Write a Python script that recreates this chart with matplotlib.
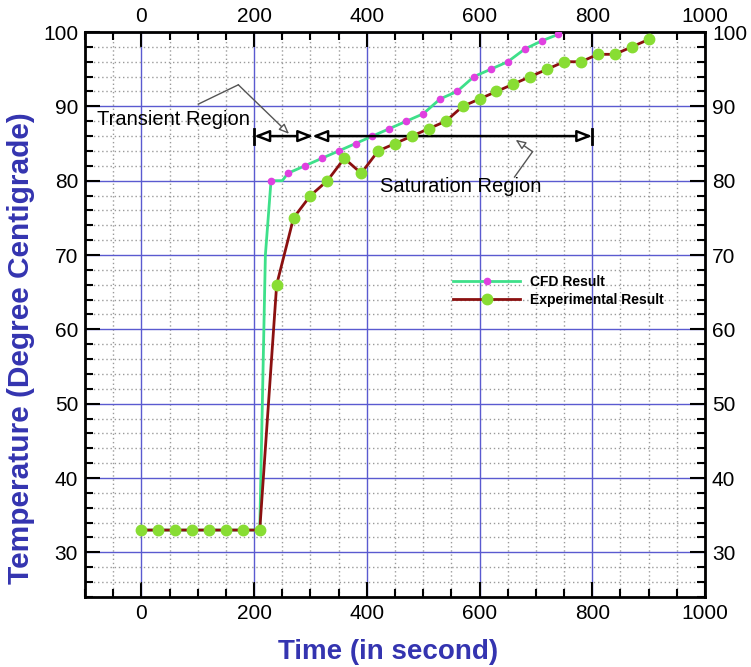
import matplotlib.pyplot as plt
from matplotlib.ticker import MultipleLocator

plt.rcParams['font.family'] = ['Liberation Sans', 'DejaVu Sans']

# Datos
tiempo_exp = [0, 30, 60, 90, 120, 150, 180, 210, 240, 270, 300, 330, 360, 390, 420, 450,
              480, 510, 540, 570, 600, 630, 660, 690, 720, 750, 780, 810, 840, 870, 900]
temp_exp = [33, 33, 33, 33, 33, 33, 33, 33, 66, 75, 78, 80, 83, 81, 84, 85,
            86, 87, 88, 90, 91, 92, 93, 94, 95, 96, 96, 97, 97, 98, 99]

tiempo_cfd = [0, 30, 60, 90, 120, 150, 180, 210, 220, 230, 250, 260, 290, 320, 350, 380,
              410, 440, 470, 500, 530, 560, 590, 620, 650, 680, 710, 740, 750]
temp_cfd = [33, 33, 33, 33, 33, 33, 33, 33, 70, 80, 80, 81, 82, 83, 84, 85,
            86, 87, 88, 89, 91, 92, 94, 95, 96, 97.7, 98.8, 99.7, 100.5]
marcas_cfd = [0, 1, 2, 3, 4, 5, 6, 7, 9] + list(range(11, 28))

ticks_x = [0, 200, 400, 600, 800, 1000]
ticks_y = [30, 40, 50, 60, 70, 80, 90, 100]

azul = '#3434b0'

fig = plt.figure(figsize=(7.51, 6.67), dpi=100)
ax = fig.add_axes([0.1132, 0.105, 0.8256, 0.847])

ax.plot(tiempo_cfd, temp_cfd, color='#3ee08a', linewidth=2, marker='o', markersize=4.5,
        markerfacecolor='#e040e0', markeredgecolor='#e040e0', markevery=marcas_cfd,
        label='CFD Result', zorder=3)
ax.plot(tiempo_exp, temp_exp, color='#8b1010', linewidth=2, marker='o', markersize=7.5,
        markerfacecolor='#88dd33', markeredgecolor='#88dd33', label='Experimental Result',
        zorder=4)

ax.set_xlim(-100, 1000)
ax.set_ylim(24, 100)
ax.set_xticks(ticks_x)
ax.set_yticks(ticks_y)
ax.xaxis.set_minor_locator(MultipleLocator(50))
ax.yaxis.set_minor_locator(MultipleLocator(2))

ax.grid(True, which='major', color='#5a5ad0', linewidth=1)
ax.grid(True, which='minor', color='#9a9a9a', linewidth=1, linestyle=(0, (1, 2)))
ax.set_axisbelow(True)

ax.tick_params(which='both', direction='in', top=True, right=True,
               labeltop=False, labelright=True, width=1.5, labelsize=15, pad=5)
ax.tick_params(which='major', length=11)
ax.tick_params(which='minor', length=6)
for s in ax.spines.values():
    s.set_linewidth(2)

# etiquetas de arriba
arriba = ax.secondary_xaxis('top')
arriba.set_xticks(ticks_x)
arriba.tick_params(length=0, labelsize=15, pad=4.5)
arriba.spines['top'].set_visible(False)

ax.set_xlabel('Time (in second)', fontsize=20, fontweight='bold', color=azul)
ax.set_ylabel('Temperature (Degree Centigrade)', fontsize=21.5, fontweight='bold', color=azul)
ax.xaxis.set_label_coords(0.489, -0.075)
ax.yaxis.set_label_coords(-0.081, 0.44)

# Flechas de las regiones
y_flecha = 86
ax.annotate('', xy=(200, y_flecha), xytext=(305, y_flecha),
            arrowprops=dict(arrowstyle='<|-|>,head_length=0.9,head_width=0.35',
                            fc='white', ec='black', lw=1.8, shrinkA=0, shrinkB=0))
ax.annotate('', xy=(800, y_flecha), xytext=(303, y_flecha),
            arrowprops=dict(arrowstyle='<|-|>,head_length=0.9,head_width=0.35',
                            fc='white', ec='black', lw=1.8, shrinkA=0, shrinkB=0))
ax.plot([200, 200], [85, 87], color='black', linewidth=2)
ax.plot([800, 800], [85, 87], color='black', linewidth=2)

ax.text(-78, 88.2, 'Transient Region', fontsize=14.5, va='center', ha='left')
ax.plot([101, 172], [90.3, 92.9], color='#555555', linewidth=1)
ax.annotate('', xy=(262, 86.3), xytext=(172, 92.9),
            arrowprops=dict(arrowstyle='-|>,head_length=0.6,head_width=0.25',
                            fc='white', ec='#555555', lw=1, shrinkA=0, shrinkB=0))

ax.text(423, 79.2, 'Saturation Region', fontsize=14.5, va='center', ha='left')
ax.plot([662, 694], [80.5, 83.9], color='#555555', linewidth=1)
ax.annotate('', xy=(664, 85.5), xytext=(694, 83.9),
            arrowprops=dict(arrowstyle='-|>,head_length=0.6,head_width=0.25',
                            fc='white', ec='#555555', lw=1, shrinkA=0, shrinkB=0))

ax.legend(loc='upper left', bbox_to_anchor=(0.594, 0.57), frameon=False,
          prop={'size': 10, 'weight': 'bold'}, handlelength=4.8, handletextpad=0.7,
          labelspacing=0.3, borderpad=0, borderaxespad=0, numpoints=1)

plt.savefig('out.png', dpi=100)
